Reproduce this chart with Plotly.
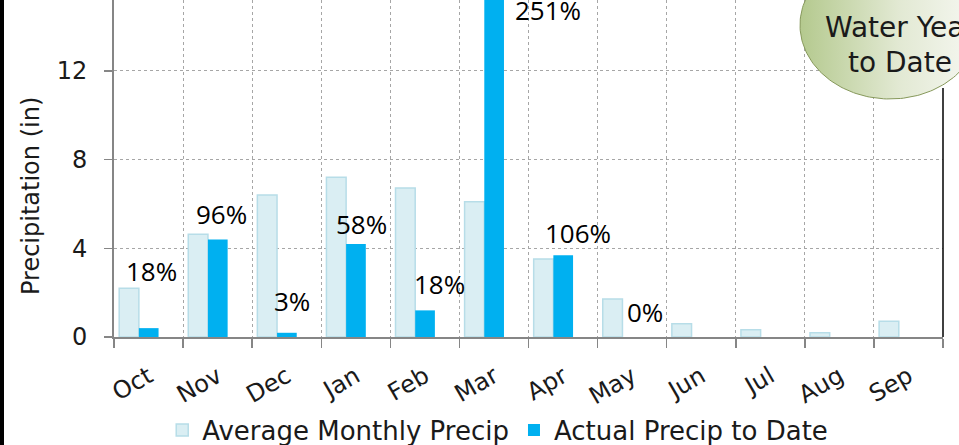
import numpy as np
import plotly.graph_objects as go

months = ["Oct", "Nov", "Dec", "Jan", "Feb", "Mar", "Apr", "May", "Jun", "Jul", "Aug", "Sep"]
avg_precip = [2.2, 4.63, 6.4, 7.2, 6.72, 6.1, 3.52, 1.71, 0.6, 0.33, 0.19, 0.71]
actual_precip = [0.4, 4.4, 0.19, 4.19, 1.2, 15.3, 3.68, 0.0, None, None, None, None]
pct_labels = ["18%", "96%", "3%", "58%", "18%", "251%", "106%", "0%"]

# label placement (styling only)
label_y = [2.96, 5.53, 1.61, 5.08, 2.40, 14.74, 4.68, 1.14]
label_dx = [3, 3.5, 5.5, 6, 15, 54.5, 15, 12.5]

W, H = 959, 445
Y_MAX = 15.19
FONT = "DejaVu Sans"
TXT = "#1a1a1a"
GRID = "#a6a6a6"
AX = "#868686"

fig = go.Figure()
fig.add_trace(go.Bar(
    x=months, y=avg_precip, name="Average Monthly Precip",
    marker=dict(color="#DAEEF3", line=dict(color="#B7DDE8", width=1.5)),
    width=0.285, offset=-0.425,
))
fig.add_trace(go.Bar(
    x=months, y=actual_precip, name="Actual Precip to Date",
    marker=dict(color="#00B0F0", line=dict(width=0)),
    width=0.285, offset=-0.14,
))

# callout oval (decoration) on a pixel-space overlay
t = np.linspace(0, 2 * np.pi, 200)
ox = 890 + 90 * np.cos(t)
oy = 25 + 74 * np.sin(t)
fig.add_trace(go.Scatter(
    x=ox, y=oy, mode="lines", fill="toself",
    line=dict(color="#86985a", width=1),
    fillgradient=dict(type="horizontal",
                      colorscale=[[0, "#b4c98e"], [0.55, "#e2e9d3"], [1, "#f7f8f3"]]),
    xaxis="x2", yaxis="y2", showlegend=False, hoverinfo="skip",
))

annotations = []
for i, lab in enumerate(pct_labels):
    annotations.append(dict(
        x=months[i], y=label_y[i], xref="x", yref="y", text=lab,
        showarrow=False, xshift=label_dx[i], xanchor="center", yanchor="middle",
        font=dict(family="Open Sans", size=26, color="#000000"),
    ))
annotations.append(dict(
    x=31, y=196, xref="x2", yref="y2", text="Precipitation (in)", textangle=-90,
    showarrow=False, xanchor="center", yanchor="middle",
    font=dict(family=FONT, size=24, color=TXT),
))
annotations.append(dict(
    x=900, y=27, xref="x2", yref="y2", text="Water Year",
    showarrow=False, xanchor="center", yanchor="middle",
    font=dict(family=FONT, size=28, color=TXT),
))
annotations.append(dict(
    x=900, y=62, xref="x2", yref="y2", text="to Date",
    showarrow=False, xanchor="center", yanchor="middle",
    font=dict(family=FONT, size=28, color=TXT),
))

shapes = [
    dict(type="rect", xref="paper", yref="paper", x0=0, x1=4 / W, y0=0, y1=1,
         fillcolor="#000000", line=dict(width=0), layer="above"),
    dict(type="line", xref="paper", yref="paper", x0=943 / W, x1=943 / W,
         y0=(H - 337) / H, y1=(H - 88) / H, line=dict(color="#000000", width=1.5),
         layer="above"),
]

fig.update_layout(
    width=W, height=H, autosize=False,
    margin=dict(l=0, r=0, t=0, b=0, autoexpand=False),
    paper_bgcolor="white", plot_bgcolor="rgba(0,0,0,0)",
    barmode="group",
    font=dict(family=FONT, color=TXT),
    xaxis=dict(
        type="category", domain=[114 / W, 943 / W], range=[-0.5, 11.5],
        tickson="boundaries", ticks="outside", ticklen=9, tickwidth=1.5, tickcolor=AX,
        showline=True, linecolor=AX, linewidth=2,
        showgrid=True, gridcolor=GRID, griddash="dot", gridwidth=1,
        tickangle=-30, ticklabelstandoff=14,
        tickfont=dict(family=FONT, size=24, color=TXT),
        automargin=False, fixedrange=True,
    ),
    yaxis=dict(
        domain=[(H - 337) / H, 1], range=[0, Y_MAX],
        tickvals=[0, 4, 8, 12], ticks="outside", ticklen=8, tickwidth=1.5, tickcolor=AX,
        showline=True, linecolor=AX, linewidth=2, zeroline=False,
        showgrid=True, gridcolor=GRID, griddash="dot", gridwidth=1,
        ticklabelstandoff=12,
        tickfont=dict(family=FONT, size=24, color=TXT),
        automargin=False, fixedrange=True,
    ),
    xaxis2=dict(domain=[0, 1], range=[0, W], anchor="y2", visible=False, fixedrange=True),
    yaxis2=dict(domain=[0, 1], range=[H, 0], anchor="x2", visible=False, fixedrange=True),
    legend=dict(
        orientation="h", x=0.519, xanchor="center", y=(H - 430) / H, yanchor="middle",
        font=dict(family=FONT, size=26, color=TXT), bgcolor="rgba(0,0,0,0)",
        traceorder="normal",
    ),
    annotations=annotations,
    shapes=shapes,
    showlegend=True,
)

fig.write_html(
    "out.html",
    config={"responsive": False, "displayModeBar": False, "staticPlot": True},
    post_script="document.body.style.margin='0';",
)
